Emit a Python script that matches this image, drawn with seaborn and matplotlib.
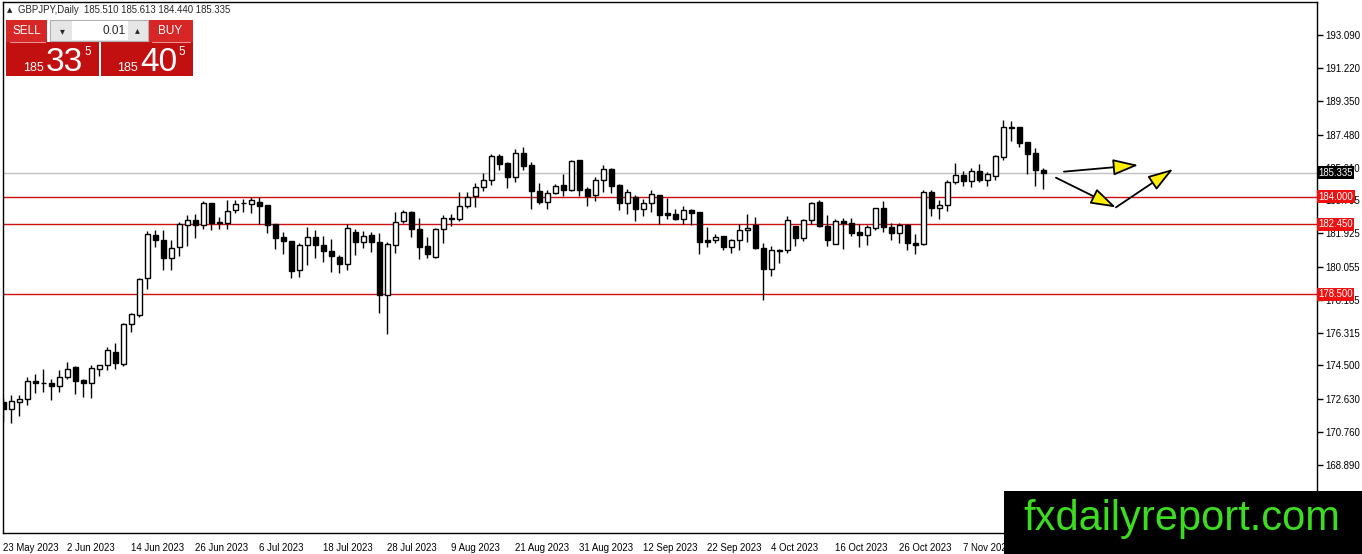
"""GBPJPY daily candles with support lines, MT4 style."""

import matplotlib
matplotlib.use("Agg")

import matplotlib.pyplot as plt
import numpy as np
import seaborn as sns
from matplotlib.patches import Rectangle

# daily OHLC, 23 May 2023 onward
opens = [172.42, 172.05, 172.42, 172.61, 173.64, 173.50, 173.52, 173.32, 173.82, 174.38,
         173.69, 173.50, 174.29, 174.49, 175.24, 174.59, 176.81, 177.33, 179.39, 181.81,
         181.57, 180.56, 181.16, 182.41, 182.66, 182.41, 183.66, 182.54, 182.51, 183.25,
         183.63, 183.59, 183.72, 183.51, 182.47, 181.70, 181.52, 179.84, 181.29, 181.74,
         181.29, 180.96, 180.60, 180.23, 182.02, 181.46, 181.81, 181.46, 178.43, 181.25,
         182.60, 183.12, 182.17, 181.20, 180.58, 182.15, 182.75, 182.73, 183.44, 184.04,
         184.56, 184.95, 186.30, 185.87, 185.12, 186.46, 185.77, 184.30, 183.72, 184.22,
         184.63, 184.37, 186.04, 184.41, 184.11, 184.92, 185.57, 184.67, 183.63, 183.96,
         183.31, 183.65, 184.11, 183.05, 182.99, 182.73, 183.22, 183.12, 181.57, 181.57,
         181.76, 181.16, 181.57, 182.13, 182.38, 181.13, 179.93, 181.01, 180.98, 182.32,
         181.67, 182.69, 183.68, 182.36, 181.33, 182.62, 182.49, 181.98, 181.85, 182.21,
         183.33, 182.30, 181.93, 182.39, 181.40, 181.33, 184.24, 183.38, 183.55, 184.79,
         185.23, 184.88, 185.46, 184.95, 185.18, 186.22, 187.94, 187.90, 187.08, 186.45,
         185.510]
highs = [172.66, 172.85, 172.80, 173.84, 174.03, 174.29, 173.73, 174.21, 174.70, 174.48,
         173.75, 174.49, 174.51, 175.54, 175.76, 176.87, 177.46, 179.39, 182.06, 182.09,
         182.09, 181.57, 182.56, 182.97, 183.03, 183.74, 183.66, 182.84, 183.83, 183.83,
         183.87, 184.00, 184.00, 183.53, 182.47, 181.98, 181.52, 181.40, 182.26, 182.13,
         181.78, 181.63, 180.69, 182.45, 182.17, 182.04, 182.00, 181.95, 181.44, 183.14,
         183.23, 183.20, 182.77, 181.72, 182.21, 182.95, 183.01, 184.26, 184.26, 184.77,
         185.33, 186.37, 186.41, 185.94, 186.65, 186.78, 185.94, 184.77, 184.39, 184.73,
         185.29, 186.04, 186.04, 184.54, 185.10, 185.77, 185.62, 184.73, 184.43, 184.11,
         183.87, 184.34, 184.11, 183.89, 183.31, 183.44, 183.31, 183.12, 182.28, 181.91,
         181.76, 181.63, 182.47, 183.03, 182.84, 181.39, 181.24, 181.05, 182.92, 182.32,
         182.75, 183.72, 183.78, 182.97, 182.73, 182.77, 182.77, 182.45, 182.39, 183.38,
         183.76, 182.49, 182.49, 182.45, 181.89, 184.36, 184.36, 183.79, 184.95, 185.91,
         185.42, 185.63, 185.85, 185.36, 186.32, 188.28, 188.24, 187.94, 187.08, 186.75,
         185.613]
lows = [171.30, 171.26, 171.67, 172.27, 172.94, 172.98, 172.53, 172.98, 173.73, 172.91,
        172.70, 172.65, 173.88, 174.25, 174.31, 174.44, 176.40, 177.20, 178.79, 181.16,
        179.89, 179.89, 180.64, 181.22, 181.67, 182.17, 182.10, 182.15, 182.17, 183.07,
        183.12, 183.10, 182.47, 181.95, 181.03, 180.77, 179.42, 179.48, 180.17, 180.55,
        180.32, 179.76, 179.72, 179.89, 180.73, 181.09, 180.88, 177.43, 176.27, 180.82,
        182.52, 181.74, 180.47, 180.56, 180.55, 181.37, 182.36, 182.64, 183.38, 183.42,
        184.32, 184.63, 185.51, 184.50, 184.82, 185.51, 183.31, 183.57, 183.31, 184.17,
        184.02, 184.30, 184.02, 183.48, 183.76, 184.26, 184.21, 183.25, 183.03, 182.62,
        182.90, 183.12, 182.47, 182.75, 182.69, 182.47, 182.41, 180.75, 181.14, 181.39,
        180.98, 180.83, 181.01, 181.44, 181.05, 178.17, 179.52, 180.27, 180.83, 181.20,
        181.48, 182.47, 182.28, 181.20, 181.31, 181.07, 181.78, 181.14, 181.27, 182.11,
        182.00, 181.55, 181.40, 180.99, 180.75, 181.27, 182.90, 182.71, 183.20, 184.69,
        184.62, 184.51, 184.82, 184.62, 184.92, 186.04, 187.12, 186.78, 185.29, 184.58,
        184.440]
closes = [172.05, 172.48, 172.61, 173.60, 173.50, 173.49, 173.32, 173.86, 174.29, 173.60,
          173.50, 174.36, 174.51, 175.37, 174.61, 176.81, 177.37, 179.33, 181.91, 181.57,
          180.56, 181.12, 182.43, 182.69, 182.41, 183.66, 182.51, 182.49, 183.20, 183.59,
          183.64, 183.78, 183.46, 182.39, 181.68, 181.52, 179.82, 181.29, 181.74, 181.29,
          180.96, 180.68, 180.23, 182.24, 181.46, 181.80, 181.44, 178.43, 181.35, 182.58,
          183.12, 182.15, 181.18, 180.75, 182.15, 182.77, 182.77, 183.44, 184.00, 184.56,
          184.95, 186.30, 185.85, 185.12, 186.46, 185.74, 184.32, 183.70, 184.22, 184.62,
          184.39, 186.02, 184.35, 184.04, 184.92, 185.57, 184.60, 183.63, 184.28, 183.31,
          183.65, 184.15, 182.97, 182.96, 182.73, 183.22, 183.07, 181.44, 181.46, 181.74,
          181.16, 181.57, 182.13, 182.21, 181.11, 179.93, 180.98, 180.96, 182.69, 181.67,
          182.69, 183.65, 182.36, 181.54, 182.62, 182.49, 181.97, 181.85, 182.28, 183.33,
          182.26, 181.93, 182.38, 181.37, 181.29, 184.24, 183.38, 183.55, 184.84, 185.23,
          184.88, 185.46, 184.92, 185.25, 186.26, 187.94, 187.87, 187.04, 186.41, 185.48,
          185.335]

date_labels = ["23 May 2023", "2 Jun 2023", "14 Jun 2023", "26 Jun 2023", "6 Jul 2023",
               "18 Jul 2023", "28 Jul 2023", "9 Aug 2023", "21 Aug 2023", "31 Aug 2023",
               "12 Sep 2023", "22 Sep 2023", "4 Oct 2023", "16 Oct 2023", "26 Oct 2023",
               "7 Nov 2023"]
price_ticks = [193.090, 191.220, 189.350, 187.480, 185.610, 183.795, 181.925,
               180.055, 178.185, 176.315, 174.500, 172.630, 170.760, 168.890]

support_levels = [184.000, 182.450, 178.500]
bid_price = 185.335

# hand-drawn forecast arrows: (bar, price) start -> end
arrow_starts = [(132.6, 185.40), (131.6, 185.06), (139.1, 183.39)]
arrow_ends = [(141.9, 185.77), (139.1, 183.39), (146.25, 185.55)]

W, H = 1362, 554

sns.set_theme(style="white")
plt.rcParams["font.family"] = ["Liberation Sans", "DejaVu Sans"]

fig = plt.figure(figsize=(W / 100, H / 100), dpi=100)
fig.patch.set_facecolor("white")

ax = fig.add_axes([2.7 / W, (H - 533) / H, (1316.7 - 2.7) / W, (533 - 2) / H])
ax.set_facecolor("white")

o = np.array(opens)
h = np.array(highs)
l = np.array(lows)
c = np.array(closes)
idx = np.arange(len(o))
bull = c >= o

# wicks + bodies
ax.vlines(idx, l, h, color="black", linewidth=1, zorder=2)
body_low = np.minimum(o, c)
body_h = np.abs(c - o)
ax.bar(idx, body_h, bottom=body_low, width=0.6,
       color=np.where(bull, "white", "black"), edgecolor="black",
       linewidth=1, zorder=3)

# levels
ax.axhline(bid_price, color="#c0c0c0", linewidth=1, zorder=1)
for lvl in support_levels:
    ax.axhline(lvl, color="#d01010", linewidth=1, zorder=1)

for (x0, y0), (x1, y1) in zip(arrow_starts, arrow_ends):
    ax.annotate("", xy=(x1, y1), xytext=(x0, y0),
                arrowprops=dict(arrowstyle="-|>,head_length=1.3,head_width=0.42",
                                fc="#ffee00", ec="black", lw=1.3,
                                shrinkA=0, shrinkB=0), zorder=5)

ax.set_xlim(-0.075, 164.2)
ax.set_ylim(165.06, 194.95)

# axes styling
for sp in ax.spines.values():
    sp.set_visible(True)
    sp.set_color("black")
    sp.set_linewidth(1)
ax.yaxis.tick_right()
ax.set_yticks(price_ticks)
ax.set_yticklabels([f"{v:.3f}" for v in price_ticks])
ax.set_xticks(np.arange(len(date_labels)) * 8)
ax.set_xticklabels(date_labels, ha="left")
ax.tick_params(axis="both", direction="out", length=4, width=1, color="black",
               labelsize=6.9, labelcolor="black", pad=2)
ax.tick_params(axis="x", pad=3)

# price labels on the scale (they sit over the nearby tick labels, as in MT4)
tr = ax.get_yaxis_transform()
ax.text(1.0012, bid_price, f"{bid_price:.3f}", transform=tr, va="center", ha="left",
        fontsize=6.9, color="white", clip_on=False, zorder=6,
        bbox=dict(boxstyle="square,pad=0.16", fc="black", ec="none"))
for lvl in support_levels:
    ax.text(1.0012, lvl, f"{lvl:.3f}", transform=tr, va="center", ha="left",
            fontsize=6.9, color="white", clip_on=False, zorder=6,
            bbox=dict(boxstyle="square,pad=0.16", fc="#ee1111", ec="none"))

# overlay in pixel coords: header, trade panel, watermark
ov = fig.add_axes([0, 0, 1, 1], zorder=10)
ov.set_xlim(0, W)
ov.set_ylim(H, 0)
ov.axis("off")
ov.patch.set_alpha(0)

ov.text(7, 10, "▲", fontsize=5, va="center", ha="left", family=["DejaVu Sans"])
ov.text(18, 10, "GBPJPY,Daily  185.510 185.613 184.440 185.335", fontsize=6.9,
        va="center", ha="left")

red_top = "#d62626"
red_low = "#c20f0f"
ov.add_patch(Rectangle((6, 20), 41, 22, fc=red_top, ec="none"))
ov.add_patch(Rectangle((149, 20), 44, 22, fc=red_top, ec="none"))
ov.add_patch(Rectangle((6, 42), 93, 34, fc=red_low, ec="none"))
ov.add_patch(Rectangle((101, 42), 92, 34, fc=red_low, ec="none"))
ov.plot([10, 45], [42, 42], color="#f09090", lw=0.8)
ov.plot([152, 190], [42, 42], color="#f09090", lw=0.8)
ov.add_patch(Rectangle((50, 20), 98, 21, fc="#e6e6e6", ec="#b0b0b0", lw=0.8))
ov.add_patch(Rectangle((72, 21), 56, 19, fc="white", ec="none"))
ov.text(62, 31, "▾", fontsize=7, ha="center", va="center", family=["DejaVu Sans"])
ov.text(137, 30, "▴", fontsize=7, ha="center", va="center", family=["DejaVu Sans"])
ov.text(126, 31, "0.01", fontsize=8.5, ha="right", va="center")
ov.text(27, 31, "SELL", fontsize=8.5, ha="center", va="center", color="white")
ov.text(170, 31, "BUY", fontsize=8.5, ha="center", va="center", color="white")

ov.text(23, 71, "185", fontsize=9, ha="left", va="baseline", color="white")
ov.text(46, 71, "33", fontsize=24, ha="left", va="baseline", color="white")
ov.text(84, 55, "5", fontsize=8.5, ha="left", va="baseline", color="white")
ov.text(117, 71, "185", fontsize=9, ha="left", va="baseline", color="white")
ov.text(140, 71, "40", fontsize=24, ha="left", va="baseline", color="white")
ov.text(178, 55, "5", fontsize=8.5, ha="left", va="baseline", color="white")

ov.add_patch(Rectangle((1004, 491), W - 1004, H - 491, fc="black", ec="none"))
ov.text(1182, 519, "fxdailyreport.com", fontsize=30, ha="center", va="center",
        color="#3cdc1e")

fig.savefig("out.png", dpi=100)
plt.close(fig)
